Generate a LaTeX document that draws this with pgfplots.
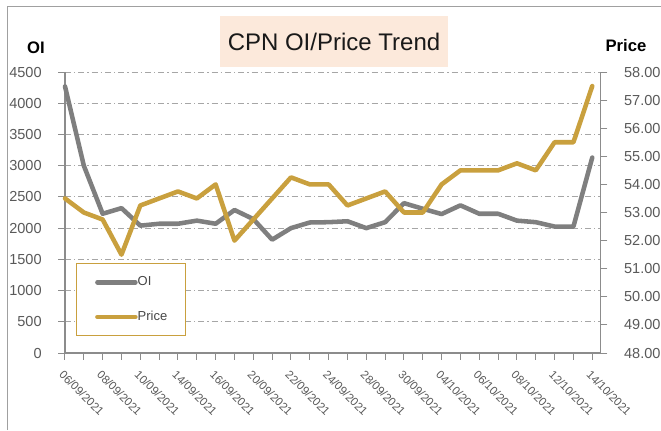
\documentclass[border=0pt]{standalone}
\usepackage{fontspec}
\setmainfont{Liberation Sans}
\usepackage{pgfplots}
\usepackage{pgfplotstable}
\pgfplotsset{compat=1.18}
\definecolor{oigrey}{HTML}{7F7F7F}
\definecolor{pricegold}{HTML}{C9A03E}
\definecolor{gridgrey}{HTML}{A6A6A6}
\definecolor{axisgrey}{HTML}{8C8C8C}
\definecolor{labgrey}{HTML}{595959}
\definecolor{peach}{HTML}{FCE9DB}
\definecolor{framegrey}{HTML}{A0A0A0}

\pgfplotstableread{
x oi
0 4270
1 3000
2 2230
3 2320
4 2040
5 2070
6 2070
7 2120
8 2070
9 2290
10 2145
11 1815
12 2000
13 2090
14 2095
15 2110
16 2000
17 2095
18 2400
19 2310
20 2225
21 2365
22 2230
23 2230
24 2120
25 2095
26 2025
27 2025
28 3130
}\oitable

\pgfplotstableread{
x price
0 53.5
1 53.0
2 52.75
3 51.5
4 53.25
5 53.5
6 53.75
7 53.5
8 54.0
9 52.0
10 52.75
11 53.5
12 54.25
13 54.0
14 54.0
15 53.25
16 53.5
17 53.75
18 53.0
19 53.0
20 54.0
21 54.5
22 54.5
23 54.5
24 54.75
25 54.5
26 55.5
27 55.5
28 57.5
}\pricetable

\pgfplotsset{
  oistyle/.style={oigrey, line width=3.4pt, line join=round, line cap=round},
  pricestyle/.style={pricegold, line width=3.4pt, line join=round, line cap=round},
  common/.style={
    at={(48.75pt,57.75pt)}, anchor=south west,
    scale only axis, width=401.8pt, height=210.75pt,
    xmin=0, xmax=28.45,
    tick align=outside, major tick length=5pt, minor tick length=5pt,
    tick style={axisgrey, line width=0.75pt},
    axis line style={axisgrey, line width=1.1pt},
    /pgf/number format/assume math mode=true,
    /pgf/number format/1000 sep={},
    scaled y ticks=false,
    yticklabel style={font=\fontsize{10.9}{12}\selectfont, text=labgrey},
    clip=false,
  },
}

\begin{document}
\begin{tikzpicture}[x=0.75pt,y=0.75pt]
\useasboundingbox (0,0) rectangle (661,430);
\draw[framegrey, line width=0.75pt] (7,0) -- (7,424) -- (661,424);
\fill[peach] (220,414) rectangle (448,363);
\node[font=\fontsize{18}{21}\selectfont, text=black!90] at (334,388) {CPN OI/Price Trend};
\node[font=\fontsize{12.5}{14}\selectfont\bfseries] at (36,382) {OI};
\node[font=\fontsize{12.5}{14}\selectfont\bfseries] at (626,384) {Price};

\begin{axis}[common,
  ymin=0, ymax=4500,
  axis x line*=bottom, axis y line*=left,
  ytick={0,500,...,4500},
  yticklabel style={xshift=-9pt},
  xtick={0,2,...,28},
  minor xtick={1,3,...,27},
  xticklabels={06/09/2021,08/09/2021,10/09/2021,14/09/2021,16/09/2021,20/09/2021,22/09/2021,24/09/2021,28/09/2021,30/09/2021,04/10/2021,06/10/2021,08/10/2021,12/10/2021,14/10/2021},
  xticklabel style={font=\fontsize{8.6}{10}\selectfont, text=labgrey, rotate=-45, anchor=north west, xshift=1.5pt, yshift=-2pt},
  ymajorgrids,
  grid style={gridgrey, line width=0.75pt, dash pattern=on 4.5pt off 2.25pt on 1pt off 2.25pt},
]
\addplot[oistyle] table[x=x, y=oi] {\oitable};
\end{axis}

\begin{axis}[common,
  ymin=48, ymax=58,
  axis y line*=right, axis x line=none,
  ytick={48,...,58},
  yticklabel style={xshift=9pt, /pgf/number format/.cd, fixed, fixed zerofill, precision=2},
  legend image code/.code={\draw[#1] (0pt,0pt) -- (28.5pt,0pt);},
  legend style={at={(0.0205,0.320)}, anchor=north west, draw=pricegold, line width=0.75pt,
    font=\fontsize{9.75}{11}\selectfont, text=labgrey!80!black,
    inner xsep=14pt, inner ysep=9pt, row sep=16pt, column sep=0pt,
    nodes={inner sep=0pt, minimum height=10pt}},
  legend cell align=left,
]
\addlegendimage{oistyle}
\addlegendentry{OI}
\addplot[pricestyle] table[x=x, y=price] {\pricetable};
\addlegendentry{Price}
\end{axis}
\end{tikzpicture}
\end{document}
